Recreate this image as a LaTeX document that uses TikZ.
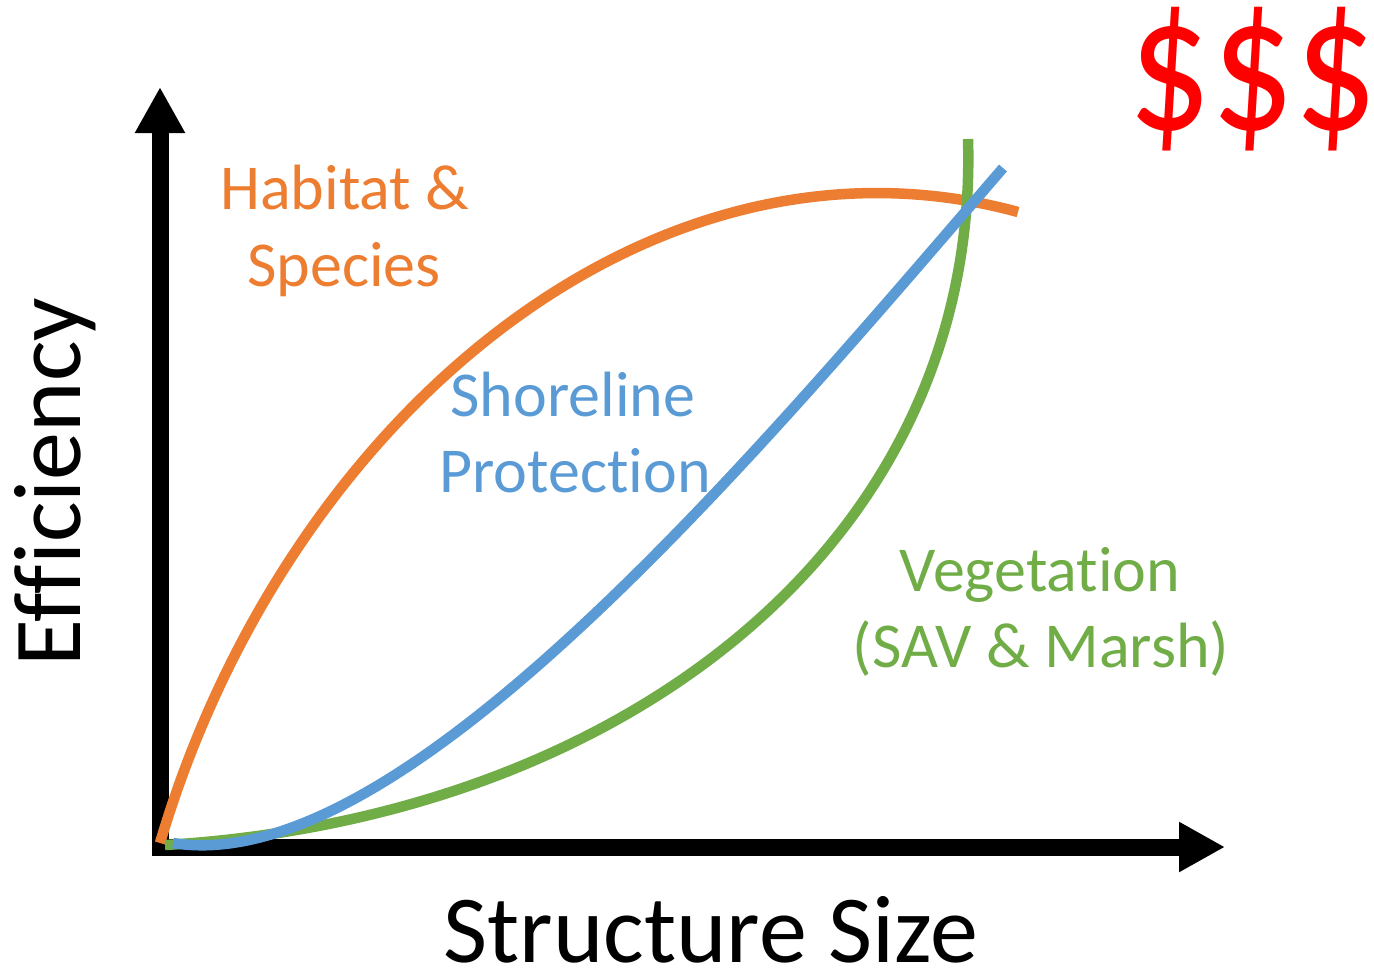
\documentclass[tikz,border=0pt]{standalone}
\usepackage{fontspec}
\setmainfont{Carlito}[Ligatures=CommonOff]
\usetikzlibrary{arrows.meta}

\definecolor{habitatorange}{HTML}{ED7D31}
\definecolor{shoreblue}{HTML}{5B9BD5}
\definecolor{veggreen}{HTML}{70AD47}
\definecolor{costred}{HTML}{FF0000}

\tikzset{
  axisline/.style={line width=8.5pt, -{Triangle[length=23pt,width=23.5pt]}},
  curveline/.style={line width=5.25pt},
  curvelabel/.style={anchor=base, inner sep=0pt, font=\fontsize{32}{38}\selectfont},
  axislabel/.style={anchor=base, inner sep=0pt, font=\fontsize{48}{58}\selectfont},
}

\begin{document}
\begin{tikzpicture}[x=0.5pt, y=-0.5pt]
        \useasboundingbox (0,0) rectangle (1374,970);

        % Draw the axes
        \draw[axisline] (160,855) -- (160,87);
        \draw[axisline] (152,847) -- (1225,847);

        % Draw the curves
        \draw[curveline, habitatorange] (160,843) .. controls (285,420) and (650,112) .. (1018,212);
        \draw[curveline, veggreen] (165,845) .. controls (620,818) and (980,545) .. (968,139);
        \draw[curveline, shoreblue] (173,843) .. controls (400,880) and (753,458) .. (1003,168);

        % Add the labels
        \node[curvelabel, habitatorange] (habitat) at (345,209) {Habitat \&};
        \node[curvelabel, habitatorange] (species) at (344,286) {Species};
        \node[curvelabel, shoreblue] (shoreline) at (573,416) {Shoreline};
        \node[curvelabel, shoreblue] (protection) at (575,492) {Protection};
        \node[curvelabel, veggreen] (vegetation) at (1040,591) {Vegetation};
        \node[curvelabel, veggreen] (savmarsh) at (1041,667) {(SAV \& Marsh)};

        \node[axislabel, text depth=0pt] (xlabel) at (711,962) {Structure Size};
        \node[axislabel, rotate=90] (ylabel) at (80,482) {Efficiency};
        \node[anchor=base, inner sep=0pt, costred, text height=56pt, text depth=9pt,
              font=\fontsize{82}{96}\selectfont] (cost) at (1253,129) {\scalebox{1}[1.18]{\$\$\$}};
\end{tikzpicture}
\end{document}
